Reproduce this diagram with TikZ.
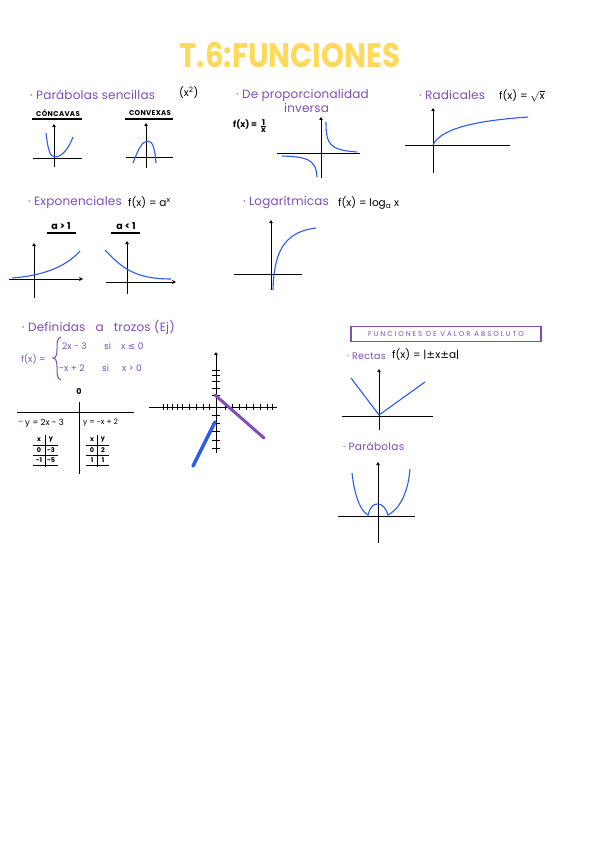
\documentclass[tikz,border=0pt]{standalone}
\usepackage{fontspec}
\setmainfont{Poppins}
\newfontfamily\dejavu{DejaVu Sans}
\usetikzlibrary{arrows.meta}
\definecolor{purp}{HTML}{7E4DB8}
\definecolor{gblue}{HTML}{2B5CF0}
\definecolor{titley}{HTML}{FFD95B}
\newcommand\myfrac[2]{\ensuremath{\vcenter{\hbox{\fontsize{8}{9}\selectfont\bfseries\begin{tabular}{@{}c@{}}#1\\[-2pt]\hline\noalign{\vskip-1pt}#2\end{tabular}}}}}
\begin{document}
\begin{tikzpicture}[x=1pt,y=-1pt,
  head/.style={text=purp,font=\fontsize{12}{14}\selectfont\addfontfeatures{LetterSpace=1.5},inner sep=0pt,anchor=west},
  blk/.style={text=black,font=\fontsize{10.5}{12}\selectfont,inner sep=0pt,anchor=west},
  lab/.style={text=black,font=\fontsize{7}{8}\selectfont\bfseries\addfontfeatures{LetterSpace=5},inner sep=0pt},
  tb/.style={text=black,font=\fontsize{6.5}{7}\selectfont\bfseries,inner sep=0pt},
  pw/.style={text=purp,font=\fontsize{9}{10}\selectfont,inner sep=0pt,anchor=west},
  ax/.style={black,line width=1pt},
  axa/.style={ax,-{Triangle[open,length=3pt,width=3.5pt]}},
  axb/.style={ax,-{Stealth[length=4pt,width=4pt]}},
  cur/.style={gblue,line width=1.1pt},
  ul/.style={black,line width=1.2pt}]
\useasboundingbox (0,0) rectangle (601,848);
\fill[white] (0,0) rectangle (601,848);
% title
\node[text=titley,inner sep=0pt] (title) at (290,55) {\scalebox{0.86}[1]{\fontsize{34}{36}\selectfont\bfseries T.6:FUNCIONES}};
% --- row 1
\node[head] (h1) at (30,95) {· Parábolas sencillas};
\node[blk] (x2) at (179,93) {(x\textsuperscript{2})};
\node[lab] (conc) at (58,113) {CÓNCAVAS};
\draw[ul] (32,119) -- (82,119);
\node[lab] (conv) at (150,113) {CONVEXAS};
\draw[ul] (125,119) -- (173,119);
\draw[axa] (54,167) -- (54,124);
\draw[ax] (33,158) -- (82,158);
\draw[cur] (46,133) .. controls (48,150) and (50,157) .. (55,157) .. controls (62,157) and (69,148) .. (73,137);
\draw[axa] (146,168) -- (146,123);
\draw[ax] (126,157) -- (173,157);
\draw[cur] (133,163) .. controls (138,150) and (142,141) .. (148,141) .. controls (153,141) and (155,150) .. (156,163);
\node[head] (h2) at (236,95) {· De proporcionalidad};
\node[head] (h2b) at (284,108) {inversa};
\node[blk,font=\fontsize{8.5}{10}\selectfont\bfseries] (f2) at (233,125) {f(x) =};
\node[inner sep=0pt,anchor=west] (f2b) at (261,127) {\myfrac{1}{x}};
\draw[axa] (321,178) -- (321,117);
\draw[ax] (277,153) -- (360,153);
\draw[cur] (326,122) .. controls (326,145) and (330,150) .. (357,152);
\draw[cur] (282,156) .. controls (305,157) and (316,158) .. (317,177);
\node[head] (h3) at (419,95) {· Radicales};
\node[blk] (f3) at (499,96) {f(x) = $\sqrt{\mbox{x}}$};
\draw[axa] (433,173) -- (433,108);
\draw[ax] (405,145) -- (510,145);
\draw[cur] (433,145) .. controls (440,130) and (470,121) .. (528,117);
% --- row 2
\node[head] (h4) at (28,202) {· Exponenciales};
\node[blk] (f4) at (128,203) {f(x) = a\textsuperscript{x}};
\node[lab,font=\fontsize{9.5}{10}\selectfont\bfseries] (a1) at (61,226) {a > 1};
\draw[ul] (47,233) -- (76,233);
\node[lab,font=\fontsize{9.5}{10}\selectfont\bfseries] (a2) at (126,226) {a < 1};
\draw[ul] (111,233) -- (140,233);
\draw[axa] (34,298) -- (34,243);
\draw[axb] (9,279) -- (83,279);
\draw[cur] (12,278) .. controls (40,276) and (65,268) .. (80,251);
\draw[axa] (127,294) -- (127,241);
\draw[axb] (106,282) -- (176,282);
\draw[cur] (105,250) .. controls (122,268) and (135,279) .. (171,279);
\node[head] (h5) at (243,202) {· Logarítmicas};
\node[blk] (f5) at (338,203) {f(x) = log\textsubscript{a} x};
\draw[axa] (271,290) -- (271,220);
\draw[ax] (234,274) -- (302,274);
\draw[cur] (273,290) .. controls (274,255) and (282,232) .. (316,228);
% --- row 3
\node[head] (h6) at (22,327) {· Definidas \ \ a \ \ trozos (Ej)};
\node[pw] (f6) at (21,359) {f(x) =};
\draw[purp,line width=1pt] (61,337) .. controls (57,338) and (57,343) .. (57,349) .. controls (57,355) and (56,358) .. (53,358) .. controls (56,358) and (57,362) .. (57,367) .. controls (57,374) and (57,379) .. (61,380);
\node[pw] (p1) at (62,346) {2x - 3};
\node[pw] (s1) at (104,346) {si};
\node[pw] (c1) at (121,346) {x {\dejavu ≤} 0};
\node[pw] (p2) at (59,368) {-x + 2};
\node[pw] (s2) at (102,368) {si};
\node[pw] (c2) at (122,368) {x > 0};
% table
\node[tb,font=\fontsize{8}{9}\selectfont\bfseries] (zero) at (79,392) {0};
\draw[ax] (17,412) -- (134,412);
\draw[ax] (79,402) -- (79,474);
\node[blk,text=gblue] (dash) at (18,423) {-};
\node[blk,font=\fontsize{8.5}{9}\selectfont] (e1) at (25,423) {y = 2x - 3};
\node[blk,font=\fontsize{7.5}{9}\selectfont] (e2) at (83,423) {y = -x + 2};
\draw[ax,line width=0.8pt] (45,435) -- (45,467);
\draw[ax,line width=0.8pt] (33,445) -- (58,445);
\draw[ax,line width=0.8pt] (33,455) -- (58,455);
\draw[ax,line width=0.8pt] (33,465) -- (58,465);
\node[tb] (t1) at (39,440) {x};
\node[tb] (t2) at (51,440) {y};
\node[tb] (t3) at (39,450) {0};
\node[tb] (t4) at (51,450) {-3};
\node[tb] (t5) at (39,460) {-1};
\node[tb] (t6) at (51,460) {-5};
\draw[ax,line width=0.8pt] (97,435) -- (97,467);
\draw[ax,line width=0.8pt] (86,445) -- (109,445);
\draw[ax,line width=0.8pt] (86,455) -- (109,455);
\draw[ax,line width=0.8pt] (86,465) -- (109,465);
\node[tb] (r1) at (92,440) {x};
\node[tb] (r2) at (103,440) {y};
\node[tb] (r3) at (92,450) {0};
\node[tb] (r4) at (103,450) {2};
\node[tb] (r5) at (92,460) {1};
\node[tb] (r6) at (103,460) {1};
% piecewise graph
\draw[axa] (216,453) -- (216,352);
\draw[ax] (149,407) -- (277,407);
\foreach \xx in {163,167,172,177,182,189,196,203,209,225,232,239,246,253,260,267,272}
  \draw[ax,line width=0.8pt] (\xx,404) -- (\xx,410);
\foreach \yy in {370,375,381,388,395,415,423,431,440,448}
  \draw[ax,line width=0.8pt] (212,\yy) -- (220,\yy);
\draw[purp,line width=3pt,line cap=round] (215,395) -- (264,438);
\draw[gblue,line width=3.5pt,line cap=round] (215,422) -- (193,466);
% --- right column
\node[draw=purp,line width=1.2pt,text=purp,minimum width=190pt,minimum height=15pt,inner sep=0pt,font=\fontsize{7}{8}\selectfont\addfontfeatures{LetterSpace=28}] (box) at (446,334) {FUNCIONES DE VALOR ABSOLUTO};
\node[head,font=\fontsize{9.5}{10}\selectfont\addfontfeatures{LetterSpace=3}] (h7) at (347,356) {· Rectas};
\node[blk] (f7) at (392,355) {f(x) = |{\dejavu ±}x{\dejavu ±}a|};
\draw[axa] (379,430) -- (379,369);
\draw[ax] (342,416) -- (433,416);
\draw[cur] (351,378) -- (379,415) -- (425,382);
\node[head,font=\fontsize{10.5}{12}\selectfont\addfontfeatures{LetterSpace=3}] (h8) at (343,446) {· Parábolas};
\draw[axa] (378,543) -- (378,462);
\draw[ax] (338,516) -- (415,516);
\draw[cur] (352,473) .. controls (355,500) and (362,512) .. (368,515) .. controls (371,505) and (374,504) .. (378,504) .. controls (382,504) and (386,508) .. (388,515) .. controls (398,510) and (408,495) .. (410,469);
\end{tikzpicture}
\end{document}
